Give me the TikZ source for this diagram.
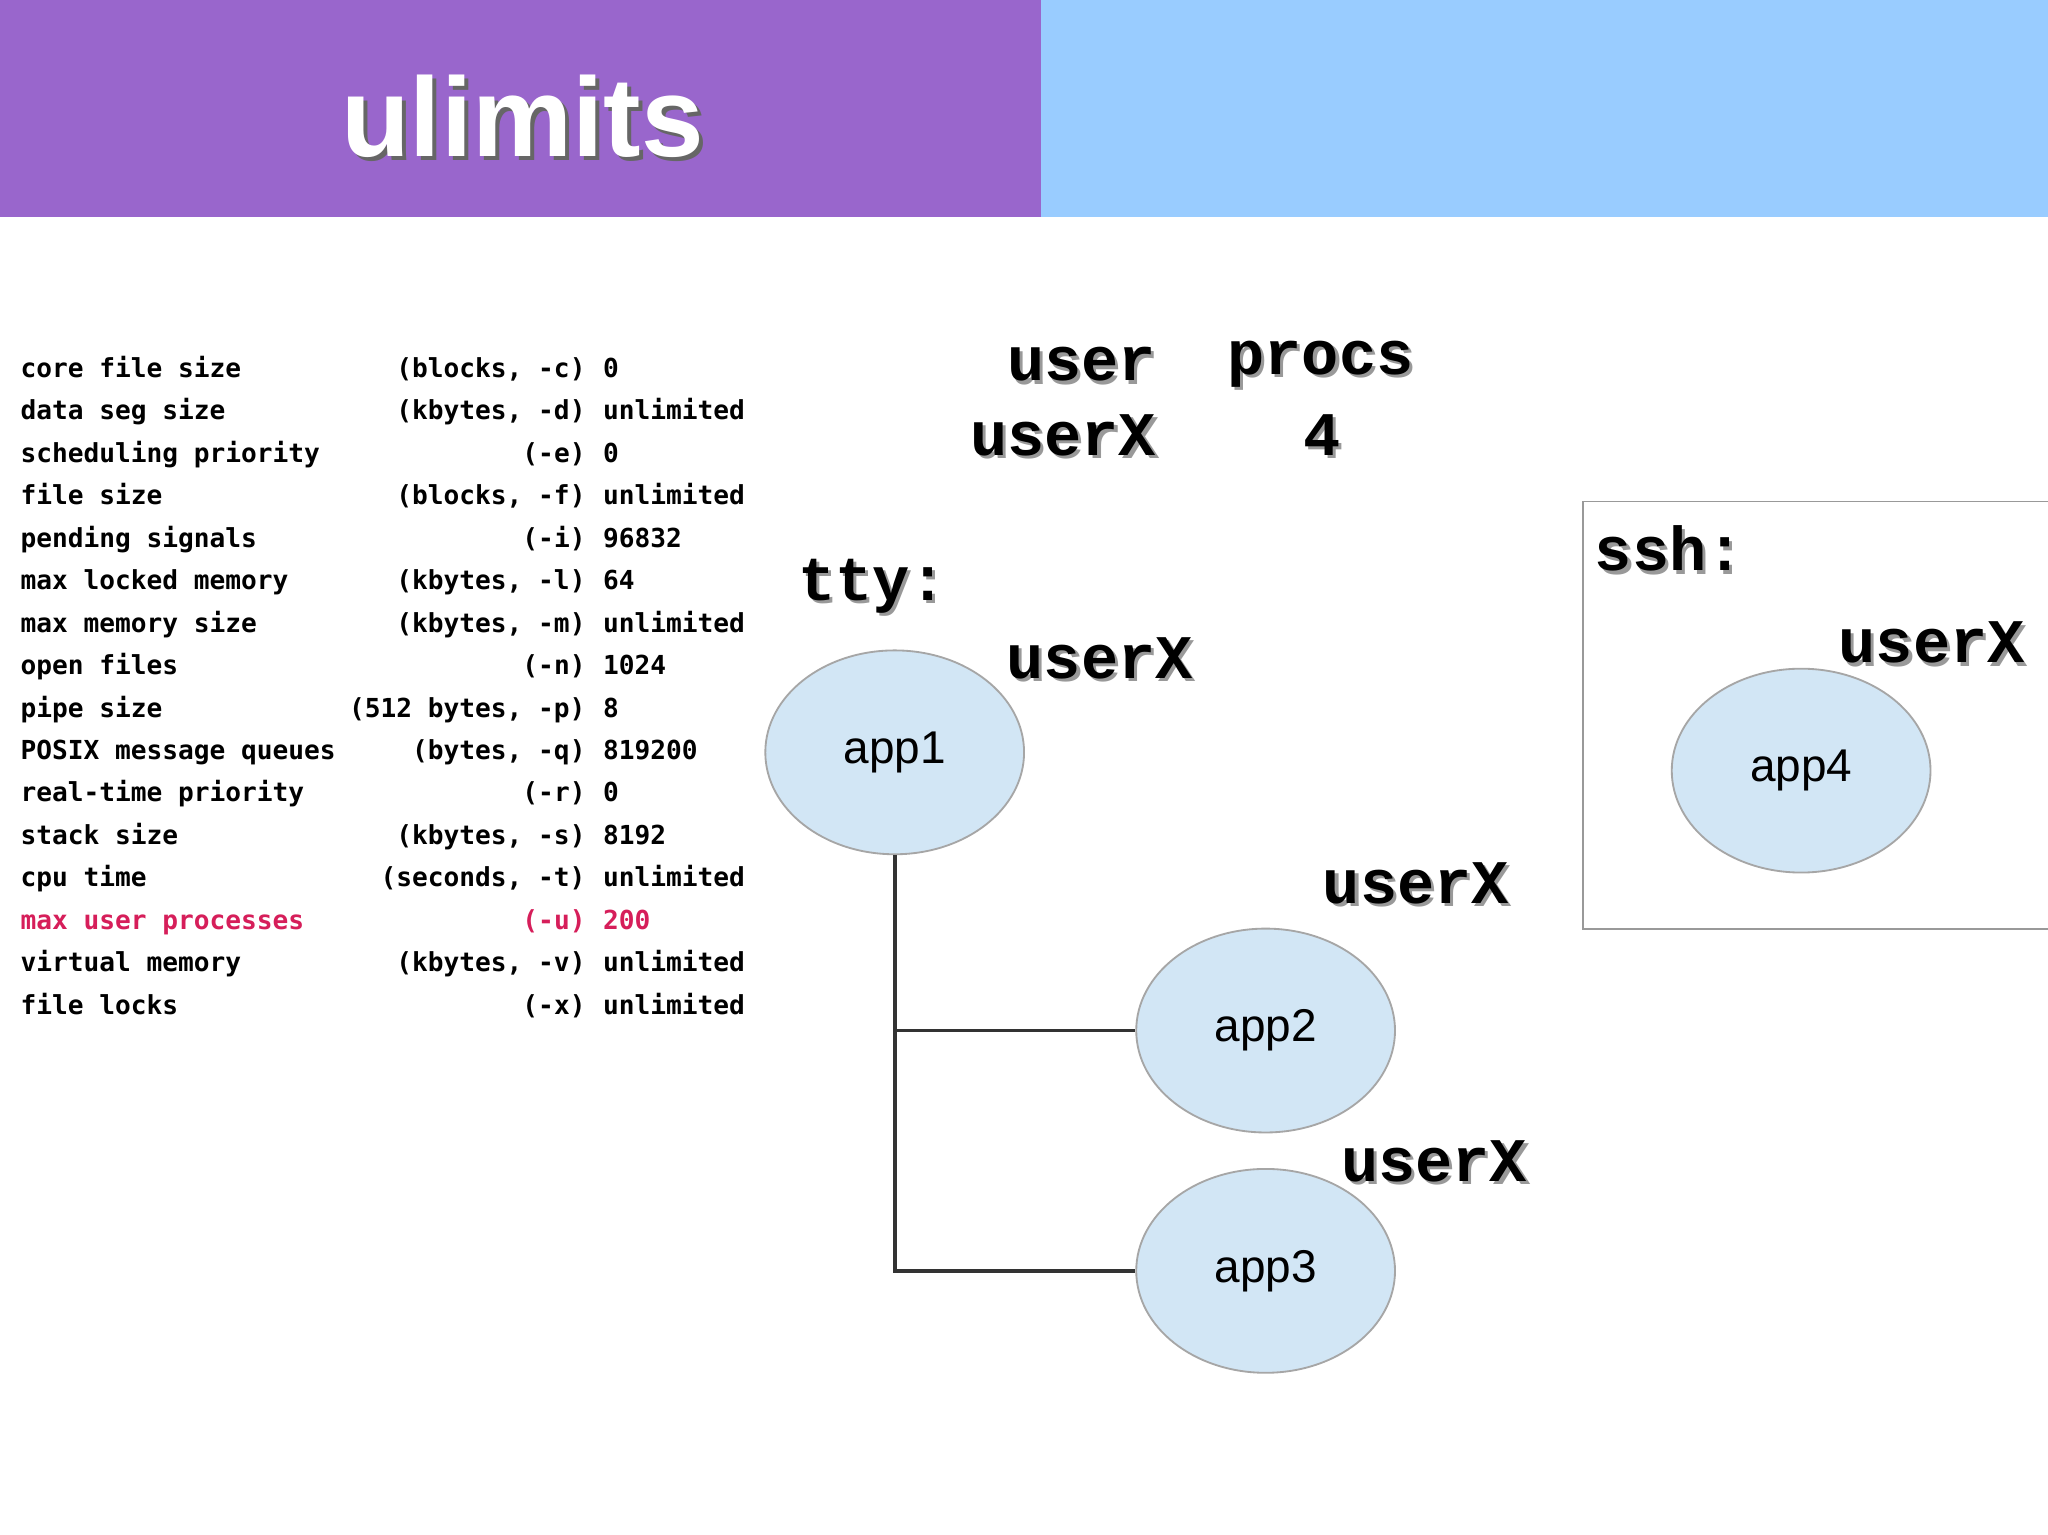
\documentclass[tikz,border=0pt]{standalone}
\usepackage{fontspec}
\setmainfont{Liberation Sans}
\newfontfamily\tabfont{DejaVu Sans Mono}
\newfontfamily\bigfont{Liberation Mono}
\usetikzlibrary{shapes.geometric}
\definecolor{hdrpurple}{RGB}{153,102,204}
\definecolor{hdrblue}{RGB}{153,204,255}
\definecolor{appfill}{RGB}{210,230,245}
\definecolor{rowred}{RGB}{214,30,90}
\tikzset{%
  % Specifications for style of nodes:
  app/.style = {ellipse, draw=black!35, fill=appfill, minimum width=1.98cm,
                minimum height=1.56cm, inner sep=0pt, font=\fontsize{10}{12}\selectfont},
  row/.style = {inner sep=0pt, font=\tabfont\bfseries\fontsize{5.7}{7}\selectfont},
  big/.style = {inner sep=0pt, font=\bigfont\bfseries\fontsize{13.5}{16}\selectfont},
  shade/.style = {big, text=black!40}
}
\newcommand{\bigtext}[3]{%
  \node[shade] (#1s) at ([xshift=0.025cm,yshift=-0.025cm]#2) {#3};
  \node[big] (#1) at (#2) {#3};}
\begin{document}
\begin{tikzpicture}[x=0.01cm, y=-0.01cm]
  \useasboundingbox (0,0) rectangle (1568,1175);
  \fill[white] (0,0) rectangle (1568,1175);
  \fill[hdrpurple] (0,0) rectangle (797,166);
  \fill[hdrblue] (797,0) rectangle (1568,166);
  \node (titles) [text=black!60, font=\bfseries\fontsize{24.5}{28}\selectfont] at (403,92) {ulimits};
  \node (title) [text=white, font=\bfseries\fontsize{24.5}{28}\selectfont] at (400,89) {ulimits};

  % limits table
  \foreach \i/\a/\b/\c/\col in {0/core file size/{(blocks, -c)}/0/black,
      1/data seg size/{(kbytes, -d)}/unlimited/black,
      2/scheduling priority/(-e)/0/black,
      3/file size/{(blocks, -f)}/unlimited/black,
      4/pending signals/(-i)/96832/black,
      5/max locked memory/{(kbytes, -l)}/64/black,
      6/max memory size/{(kbytes, -m)}/unlimited/black,
      7/open files/(-n)/1024/black,
      8/pipe size/{(512 bytes, -p)}/8/black,
      9/POSIX message queues/{(bytes, -q)}/819200/black,
      10/real-time priority/(-r)/0/black,
      11/stack size/{(kbytes, -s)}/8192/black,
      12/cpu time/{(seconds, -t)}/unlimited/black,
      13/max user processes/(-u)/200/rowred,
      14/virtual memory/{(kbytes, -v)}/unlimited/black,
      15/file locks/(-x)/unlimited/black} {
    \node (n\i) [row, anchor=base west, text=\col] at (15,{289+32.5*\i}) {\a};
    \node (p\i) [row, anchor=base east, text=\col] at (449,{289+32.5*\i}) {\b};
    \node (v\i) [row, anchor=base west, text=\col] at (461,{289+32.5*\i}) {\c};
  }

  % headings
  \bigtext{user}{828,279}{user}
  \bigtext{procs}{1011,279}{procs}
  \bigtext{userX}{814,333}{userX}
  \bigtext{four}{1012,333}{4}
  \bigtext{tty}{668,449}{tty:}
  \bigtext{uone}{842,504}{userX}
  \bigtext{utwo}{1084,676}{userX}
  \bigtext{uthree}{1098,889}{userX}

  % ssh session
  \draw[black!40] (1212,384) rectangle (1575,711);
  \bigtext{ssh}{1278,420}{ssh:}
  \bigtext{ufour}{1479,492}{userX}

  \node (app1) [app] at (685,576) {app1};
  \node (app2) [app] at (969,789) {app2};
  \node (app3) [app] at (969,973) {app3};
  \node (app4) [app] at (1379,590) {app4};

  \coordinate (fork) at (685,789);
  \draw[thick, black!80] (app1) -- (app1 |- app3) -- (app3);
  \draw[thick, black!80] (fork) -- (app2);
\end{tikzpicture}
\end{document}
